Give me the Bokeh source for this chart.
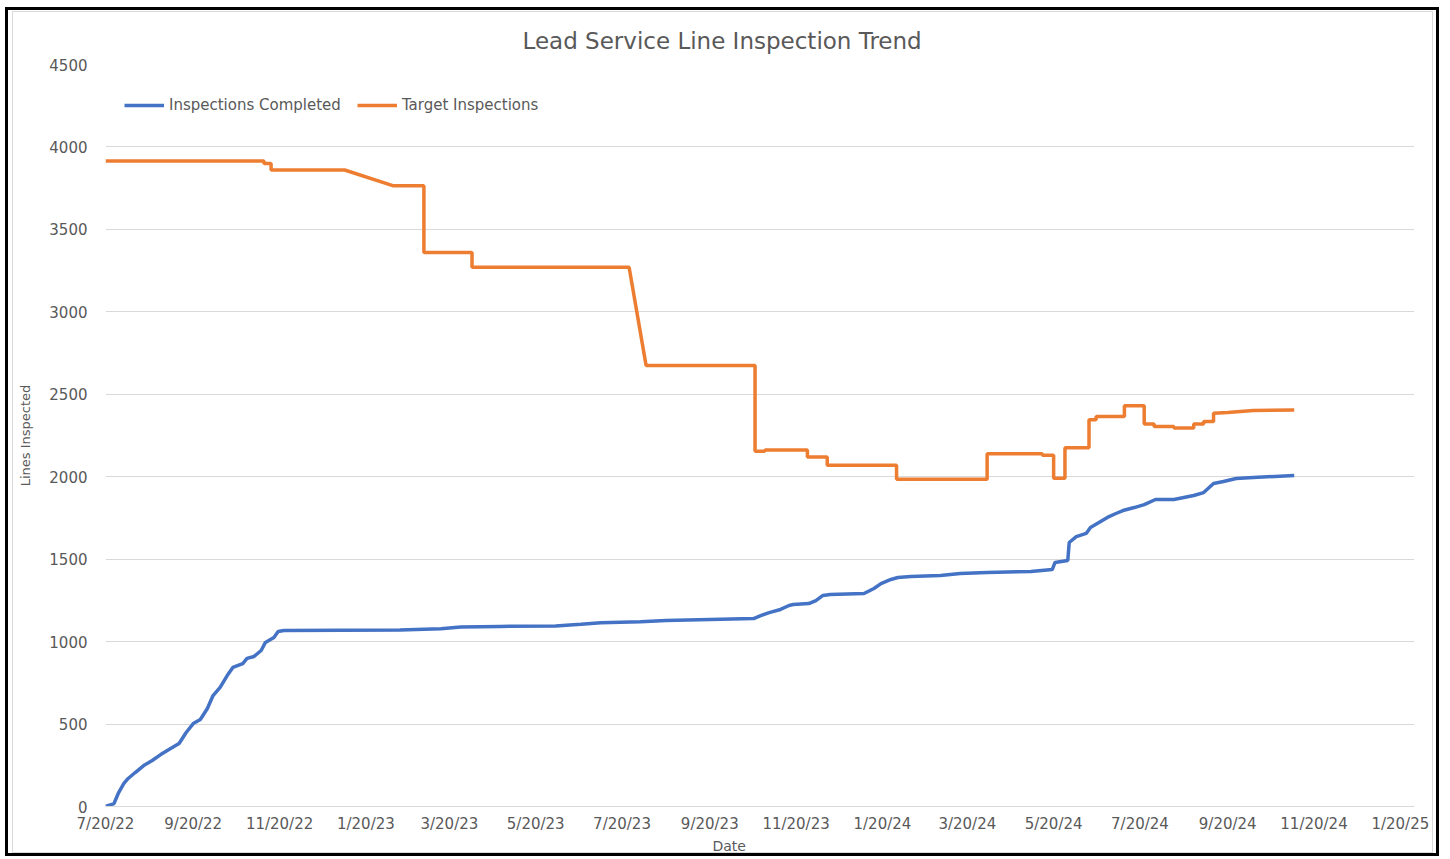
import pandas as pd
from bokeh.plotting import figure
from bokeh.models import (Range1d, FixedTicker, CustomJSTickFormatter, Title,
                          Legend, LegendItem, ColumnDataSource, Column)
from bokeh.embed import file_html
from bokeh.resources import INLINE

# ---------------- data ----------------
completed_dates = [
    "2022-07-20", "2022-07-26", "2022-07-29", "2022-08-02", "2022-08-05", "2022-08-10",
    "2022-08-16", "2022-08-22", "2022-08-28", "2022-09-04", "2022-09-10", "2022-09-15",
    "2022-09-20", "2022-09-25", "2022-09-30", "2022-10-04", "2022-10-09", "2022-10-14",
    "2022-10-18", "2022-10-25", "2022-10-28", "2022-11-02", "2022-11-07", "2022-11-10",
    "2022-11-16", "2022-11-19", "2022-11-23", "2023-02-13", "2023-03-14", "2023-03-28",
    "2023-04-25", "2023-06-03", "2023-06-21", "2023-07-05", "2023-08-02", "2023-08-20",
    "2023-10-21", "2023-10-26", "2023-11-01", "2023-11-09", "2023-11-15", "2023-11-18",
    "2023-11-29", "2023-12-04", "2023-12-09", "2023-12-14", "2024-01-07", "2024-01-14",
    "2024-01-19", "2024-01-26", "2024-01-31", "2024-02-09", "2024-03-01", "2024-03-15",
    "2024-04-03", "2024-05-04", "2024-05-19", "2024-05-21", "2024-05-30", "2024-05-31",
    "2024-06-05", "2024-06-12", "2024-06-15", "2024-06-21", "2024-06-27", "2024-07-03",
    "2024-07-08", "2024-07-16", "2024-07-23", "2024-07-31", "2024-08-13", "2024-08-27",
    "2024-09-03", "2024-09-10", "2024-09-17", "2024-09-26", "2024-10-08", "2024-11-06",
]
completed_values = [
    0, 18, 79, 140, 170, 206,
    248, 279, 315, 352, 382, 449,
    503, 528, 594, 673, 722, 794,
    843, 867, 898, 910, 946, 995,
    1025, 1061, 1067, 1070, 1078, 1088,
    1092, 1095, 1105, 1115, 1120, 1128,
    1140, 1158, 1176, 1195, 1219, 1225,
    1231, 1249, 1280, 1286, 1292, 1322,
    1352, 1377, 1389, 1395, 1401, 1413,
    1419, 1425, 1437, 1480, 1492, 1601,
    1637, 1656, 1692, 1722, 1753, 1777,
    1795, 1813, 1831, 1862, 1862, 1886,
    1904, 1959, 1971, 1989, 1995, 2008,
]

target_dates = [
    "2022-07-20", "2022-11-09", "2022-11-09", "2022-11-14", "2022-11-14", "2023-01-05",
    "2023-02-08", "2023-03-02", "2023-03-02", "2023-04-05", "2023-04-05", "2023-07-25",
    "2023-08-06", "2023-10-22", "2023-10-22", "2023-10-29", "2023-10-29", "2023-11-28",
    "2023-11-28", "2023-12-12", "2023-12-12", "2024-01-30", "2024-01-30", "2024-04-03",
    "2024-04-03", "2024-05-12", "2024-05-12", "2024-05-20", "2024-05-20", "2024-05-28",
    "2024-05-28", "2024-06-14", "2024-06-14", "2024-06-19", "2024-06-19", "2024-07-09",
    "2024-07-09", "2024-07-23", "2024-07-23", "2024-07-30", "2024-07-30", "2024-08-13",
    "2024-08-13", "2024-08-27", "2024-08-27", "2024-09-03", "2024-09-03", "2024-09-10",
    "2024-09-10", "2024-09-20", "2024-10-08", "2024-11-06",
]
target_values = [
    3915, 3915, 3900, 3900, 3860, 3860,
    3765, 3765, 3360, 3360, 3270, 3270,
    2675, 2675, 2155, 2155, 2162, 2162,
    2120, 2120, 2070, 2070, 1985, 1985,
    2140, 2140, 2130, 2130, 1990, 1990,
    2175, 2175, 2345, 2345, 2365, 2365,
    2430, 2430, 2320, 2320, 2305, 2305,
    2295, 2295, 2320, 2320, 2335, 2335,
    2385, 2390, 2402, 2405,
]

x_tick_dates = ["2022-07-20", "2022-09-20", "2022-11-20", "2023-01-20", "2023-03-20",
                "2023-05-20", "2023-07-20", "2023-09-20", "2023-11-20", "2024-01-20",
                "2024-03-20", "2024-05-20", "2024-07-20", "2024-09-20", "2024-11-20",
                "2025-01-20"]
x_tick_labels = ["7/20/22", "9/20/22", "11/20/22", "1/20/23", "3/20/23", "5/20/23",
                 "7/20/23", "9/20/23", "11/20/23", "1/20/24", "3/20/24", "5/20/24",
                 "7/20/24", "9/20/24", "11/20/24", "1/20/25"]
y_ticks = [0, 500, 1000, 1500, 2000, 2500, 3000, 3500, 4000, 4500]

title_text = "Lead Service Line Inspection Trend"
series_names = ["Inspections Completed", "Target Inspections"]
x_title = "Date"
y_title = "Lines Inspected"

# ---------------- styling ----------------
FONT = "DejaVu Sans"
TXT = "#595959"
GRID = "#d9d9d9"
BLUE = "#4472C4"
ORANGE = "#ED7D31"

W, H = 1421, 842

src_c = ColumnDataSource(dict(x=pd.to_datetime(completed_dates), y=completed_values))
src_t = ColumnDataSource(dict(x=pd.to_datetime(target_dates), y=target_values))

p = figure(width=W, height=H, x_axis_type="datetime",
           x_range=Range1d(pd.Timestamp("2022-07-20"), pd.Timestamp("2025-01-30")),
           y_range=Range1d(0, 4500),
           output_backend="svg", toolbar_location=None,
           min_border_left=92, min_border_right=20, min_border_top=52, min_border_bottom=48)
p.background_fill_color = "white"
p.border_fill_color = "white"
p.outline_line_color = None

r_c = p.line("x", "y", source=src_c, line_color=BLUE, line_width=3.5)
r_t = p.line("x", "y", source=src_t, line_color=ORANGE, line_width=3.5)

tick_ms = [int(v) for v in (pd.to_datetime(x_tick_dates).asi8 // 10**6)]
p.xaxis.ticker = FixedTicker(ticks=tick_ms)
p.xaxis.formatter = CustomJSTickFormatter(
    args=dict(tick_vals=tick_ms, tick_labels=x_tick_labels),
    code="""
    for (let i = 0; i < tick_vals.length; i++) {
        if (Math.abs(tick_vals[i] - tick) < 1000) { return tick_labels[i]; }
    }
    return "";
    """)
p.yaxis.ticker = FixedTicker(ticks=y_ticks)

for ax in (p.xaxis[0], p.yaxis[0]):
    ax.major_tick_line_color = None
    ax.minor_tick_line_color = None
    ax.major_tick_out = 0
    ax.major_tick_in = 0
    ax.minor_tick_out = 0
    ax.minor_tick_in = 0
    ax.major_label_text_font = FONT
    ax.major_label_text_color = TXT
p.xaxis.major_label_text_font_size = "15px"
p.yaxis.major_label_text_font_size = "15px"
p.xaxis.axis_line_color = GRID
p.xaxis.axis_line_width = 1
p.xaxis.major_label_standoff = 8
p.yaxis.axis_line_color = None
p.yaxis.major_label_standoff = 18
p.yaxis.axis_label = y_title
p.yaxis.axis_label_text_font = FONT
p.yaxis.axis_label_text_font_size = "13px"
p.yaxis.axis_label_text_font_style = "normal"
p.yaxis.axis_label_text_color = TXT
p.yaxis.axis_label_standoff = 13

p.xgrid.grid_line_color = None
p.ygrid.grid_line_color = GRID
p.ygrid.grid_line_width = 1

# chart title
p.title.text = title_text
p.title.align = "left"
p.title.offset = 417
p.title.standoff = 22
p.title.text_font = FONT
p.title.text_font_size = "23px"
p.title.text_font_style = "normal"
p.title.text_color = TXT

# x axis title
p.add_layout(Title(text=x_title, align="left", offset=607, standoff=0,
                   text_font=FONT, text_font_size="14px", text_font_style="normal",
                   text_color=TXT), "below")

legend = Legend(items=[LegendItem(label=series_names[0], renderers=[r_c]),
                       LegendItem(label=series_names[1], renderers=[r_t])],
                orientation="horizontal", location=(19, 691),
                padding=0, margin=0, spacing=16, glyph_width=40, glyph_height=20,
                label_standoff=5, border_line_color=None, background_fill_alpha=0,
                label_text_font=FONT, label_text_font_size="15px", label_text_color=TXT)
p.add_layout(legend)

p.styles = {"border": "1px solid #d9d9d9"}
layout = Column(p, margin=(7, 0, 0, 5),
                styles={"border": "3px solid black",
                        "padding": "1px 3px 0px 4px",
                        "background-color": "white"})

open("out.html", "w").write(file_html(layout, INLINE))
